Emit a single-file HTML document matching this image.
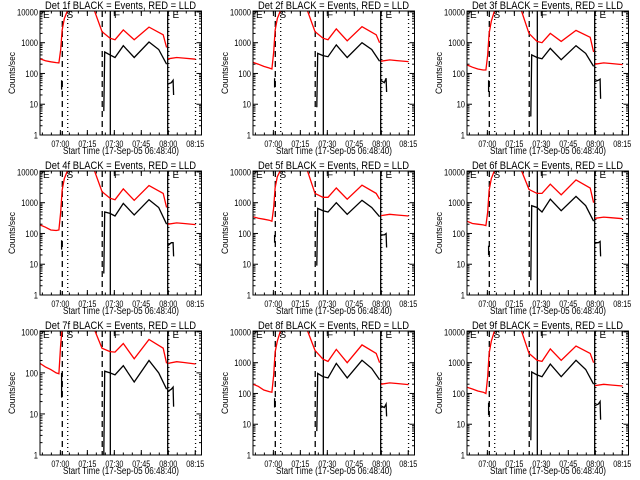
<!DOCTYPE html>
<html><head><meta charset="utf-8"><style>
html,body{margin:0;padding:0;background:#fff;width:640px;height:480px;overflow:hidden}
svg text{font-family:"Liberation Sans",sans-serif;fill:#000}
</style></head><body>
<svg id="chart" xmlns="http://www.w3.org/2000/svg" width="640" height="480" viewBox="0 0 640 480"></svg>
<script>
const detectorNames = ["1f","2f","3f","4f","5f","6f","7f","8f","9f"];
const yMaxDecade = [4,4,4,4,4,4,3,4,4];
const xTickLabels = ["07:00","07:15","07:30","07:45","08:00","08:15"];
const xTickMinutes = [11.33,26.33,41.33,56.33,71.33,86.33];
const preTimes = [0,3,6,9,10.5,11.5,12.3,13.5,15.5];
const redPre = [
 [300,260,240,225,220,600,2500,6000,12000],
 [230,200,170,150,140,500,2500,6000,12000],
 [190,160,140,130,130,400,2000,5000,12000],
 [190,160,130,125,130,500,2500,6000,12000],
 [350,310,290,270,250,700,3000,7000,12000],
 [250,210,200,190,180,500,2500,6000,12000],
 [170,140,120,100,95,500,1200,1200,1200],
 [200,170,130,115,110,400,2200,5000,12000],
 [160,140,120,110,100,350,2000,5000,12000]];
const midTimes = [30,34.5,38.9,41.7,46.3,52.4,60.6,68.5,70.4];
const redMid = [
 [12000,2300,1400,1250,2600,1250,3200,1800,700],
 [12000,2300,1400,1250,2800,1150,3300,1800,1000],
 [12000,2000,1100,1000,2000,1100,2500,1500,500],
 [12000,2300,1400,1250,2800,1200,3600,2000,700],
 [12000,2000,1500,1500,3000,1300,3700,2000,1300],
 [12000,2700,2000,2000,4000,1800,5500,3000,1000],
 [1200,400,330,320,520,220,650,400,170],
 [12000,2500,1300,1100,2700,1000,3800,2000,1000],
 [12000,2000,1200,1100,2800,1200,3500,2000,1000]];
const redPost = [300,250,200,200,380,310,170,200,180];
const blackTimes = [36,38.9,41.7,46.3,52.4,60.6,66,70.4];
const blackMid = [
 [500,400,330,800,330,1050,600,200],
 [450,380,350,850,330,1000,600,250],
 [400,330,300,650,280,800,450,170],
 [500,450,370,950,400,1250,700,200],
 [650,550,500,1000,420,1200,700,350],
 [800,700,500,1300,550,1600,800,250],
 [110,100,90,150,60,200,100,40],
 [450,350,320,950,320,1200,650,280],
 [500,400,350,900,350,1200,600,200]];
const blackSpikeLow = [6,8,4,5,9,3,1,6,3];
const blackFlare = [[30,60],[35,70],[25,60],[30,60],[50,90],[20,40],[25,100],[35,70],[20,50]];
const blackPostTimes = [71,73,74,74.3];
const blackPost = [
 [45,50,60,20],[60,50,70,25],[55,60,65,15],[40,50,50,18],[90,90,100,35],
 [50,50,55,18],[35,40,45,15],[40,35,45,18],[40,45,55,14]];

const NS="http://www.w3.org/2000/svg";
const svg=document.getElementById('chart');
function mk(tag,attrs,parent){const e=document.createElementNS(NS,tag);for(const k in attrs)e.setAttribute(k,attrs[k]);(parent||svg).appendChild(e);return e;}
const colLeft=[40,253,467], rowTop=[11,171,331], W=161.5, H=124, XMAX=89.8;
const vlines=[[12.4,"6,4"],[15.4,"1,3"],[34.6,"6,4"],[39.1,null],[71,null],[71.6,"1,3"],[86.5,"1,3"]];
const marks=[["E",3],["S",26.5],["F",74],["E",132.5]];
detectorNames.forEach((d,i)=>{
 const L=colLeft[i%3], T=rowTop[Math.floor(i/3)], B=T+H, dm=yMaxDecade[i];
 const top=dm===4?4.03:3.02;
 const sx=m=>L+m/XMAX*W;
 const sy=v=>B-(Math.log10(v))/top*H;
 const g=mk('g',{});
 
 
 const cid='c'+i;
 const cp=mk('clipPath',{id:cid},g);mk('rect',{x:L,y:T,width:W,height:H},cp);
 const t=mk('text',{x:L+5,y:T-2,'font-size':11,textLength:151,lengthAdjust:'spacingAndGlyphs'},g);
 t.textContent='Det '+d+' BLACK = Events, RED = LLD';
 
 
 const xl=mk('text',{x:L+23,y:B+19,'font-size':10,textLength:116,lengthAdjust:'spacingAndGlyphs'},g);
 xl.textContent='Start Time (17-Sep-05 06:48:40)';
 
 
 const yl=mk('text',{x:-21,y:0,'font-size':9,textLength:42,lengthAdjust:'spacingAndGlyphs',transform:`translate(${L-25},${T+H/2}) rotate(-90)`},g);
 yl.textContent='Counts/sec';
 
 
 for(let k=0;k<=dm;k++){const v=Math.pow(10,k),y=sy(v);
  mk('line',{x1:L,x2:L+5,y1:y,y2:y,stroke:'#000'},g);mk('line',{x1:L+W-5,x2:L+W,y1:y,y2:y,stroke:'#000'},g);
  const s=String(v);
  const tl=mk('text',{x:L-2-s.length*4.2,y:y+3.5,'font-size':9,textLength:s.length*4.2,lengthAdjust:'spacingAndGlyphs'},g);tl.textContent=s;
  
  
  if(k<dm)for(let m=2;m<10;m++){const yy=sy(v*m);mk('line',{x1:L,x2:L+2.5,y1:yy,y2:yy,stroke:'#000'},g);mk('line',{x1:L+W-2.5,x2:L+W,y1:yy,y2:yy,stroke:'#000'},g);}
 }
 xTickMinutes.forEach((m,k)=>{const x=sx(m);
  mk('line',{x1:x,x2:x,y1:B,y2:B-5,stroke:'#000'},g);mk('line',{x1:x,x2:x,y1:T,y2:T+5,stroke:'#000'},g);
  const tl=mk('text',{x:x-9,y:B+12,'font-size':9,textLength:18,lengthAdjust:'spacingAndGlyphs'},g);tl.textContent=xTickLabels[k];
  
  
 });
 for(let m=1.33;m<XMAX;m+=5){const x=sx(m);mk('line',{x1:x,x2:x,y1:B,y2:B-2.5,stroke:'#000'},g);mk('line',{x1:x,x2:x,y1:T,y2:T+2.5,stroke:'#000'},g);}
 vlines.forEach(([m,da])=>{const a={x1:sx(m),x2:sx(m),y1:T,y2:B,stroke:'#000','stroke-width':1.3};if(da)a['stroke-dasharray']=da;mk('line',a,g);});
 marks.forEach(([c,o])=>{const e=mk('text',{x:L+o,y:T+7,'font-size':10},g);e.textContent=c;});
 const cg=mk('g',{'clip-path':`url(#${cid})`},g);
 const poly=(ts,vs,col,name)=>{const p=mk('polyline',{points:ts.map((tt,k)=>sx(tt).toFixed(1)+','+sy(vs[k]).toFixed(1)).join(' '),fill:'none',stroke:col,'stroke-width':1.3},cg);
  
  };
 poly(preTimes,redPre[i],'#f00','red-lld-pre');
 poly(midTimes,redMid[i],'#f00','red-lld-main');
 poly([71.2,76,80,86.5],[redPost[i],redPost[i]*1.1,redPost[i]*1.05,redPost[i]*0.97],'#f00','red-lld-post');
 poly([12,12],blackFlare[i],'#000','black-events-flare');
 poly([35.5,36].concat(blackTimes),[blackSpikeLow[i],blackMid[i][0]].concat(blackMid[i]),'#000','black-events-main');
 poly(blackPostTimes,blackPost[i],'#000','black-events-post');
 mk('rect',{x:L,y:T,width:W,height:H,fill:'none',stroke:'#000','stroke-width':1},g);
});
</script>
</body></html>
